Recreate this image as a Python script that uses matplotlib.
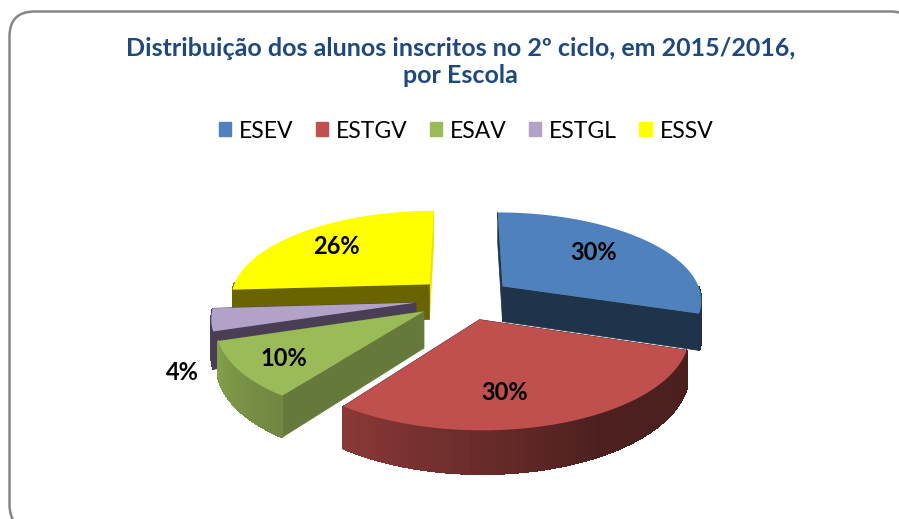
import numpy as np
import matplotlib
matplotlib.use('Agg')
import matplotlib.pyplot as plt
from matplotlib.patches import FancyBboxPatch, Patch

# data
schools = ['ESEV', 'ESTGV', 'ESAV', 'ESTGL', 'ESSV']
shares = [30, 30, 10, 4, 26]
title = 'Distribuição dos alunos inscritos no 2º ciclo, em 2015/2016,\npor Escola'

# style
top_colors = ['#4F81BD', '#C0504D', '#9BBB59', '#B2A2C7', '#FFFF00']
cut_colors = ['#1F334B', '#4B1F1E', '#657A3A', '#493E53', '#696400']
far_cut_colors = ['#1F334B', '#4B1F1E', '#657A3A', '#493E53', '#E6E600']
label_pos = [(594, 252), (505, 392), (284, 358), (182, 372), (336, 246)]
draw_order = [4, 0, 3, 2, 1]

# projection of the tilted pie, in pixels
cx, cy = 464, 298.6
rx, ry = 200, 87.9
persp = 0.145
explode = 0.243
depth = 36


def project(wx, wy, drop=0.0):
    p = 1 / (1 + persp * wy)
    return cx + rx * wx * p, cy - ry * wy * p + drop * depth * p


def rim_shade(theta):
    return np.interp(theta, [100, 150, 216, 252, 270], [.39, .40, .72, .85, .85])


fig = plt.figure(figsize=(8.99, 5.19), dpi=100)
ax = fig.add_axes([0, 0, 1, 1])
ax.set_xlim(0, 899)
ax.set_ylim(519, 0)
ax.axis('off')

# chart frame runs off the right and bottom edge
ax.add_patch(FancyBboxPatch((9.5, 11.5), 906, 518, boxstyle='round,pad=0,rounding_size=25',
                            fc='white', ec='#868686', lw=1.8, zorder=0))

edges = np.cumsum([0] + shares) / sum(shares) * 360
z = 1
for i in draw_order:
    t0, t1 = edges[i], edges[i + 1]
    mid = np.radians((t0 + t1) / 2)
    ox, oy = explode * np.sin(mid), explode * np.cos(mid)
    thetas = np.linspace(t0, t1, 80)
    arc_x = ox + np.sin(np.radians(thetas))
    arc_y = oy + np.cos(np.radians(thetas))

    # cut faces
    for k, col in [(-1, far_cut_colors[i]), (0, cut_colors[i])]:
        wx, wy = arc_x[k], arc_y[k]
        n = 20
        xs = np.linspace(ox, wx, n)
        ys = np.linspace(oy, wy, n)
        tx, ty = project(xs, ys)
        bx, by = project(xs, ys, 1)
        ax.fill(np.r_[tx, bx[::-1]], np.r_[ty, by[::-1]], color=col, lw=0.5, zorder=z)
        z += 1

    # rim, shaded strip by strip
    base = np.array(matplotlib.colors.to_rgb(top_colors[i]))
    for j in range(len(thetas) - 1):
        if not 90 < thetas[j] < 270:
            continue
        tx, ty = project(arc_x[j:j + 2], arc_y[j:j + 2])
        bx, by = project(arc_x[j:j + 2], arc_y[j:j + 2], 1)
        col = base * rim_shade(thetas[j]) if i < 3 else matplotlib.colors.to_rgb(cut_colors[i])
        ax.fill(np.r_[tx, bx[::-1]], np.r_[ty, by[::-1]], color=col, lw=0.6, antialiased=False, zorder=z)
    z += 1

    # top face
    tx, ty = project(np.r_[ox, arc_x], np.r_[oy, arc_y])
    ax.fill(tx, ty, color=top_colors[i], lw=0, zorder=z)
    z += 1

for v, (lx, ly) in zip(shares, label_pos):
    ax.text(lx, ly, f'{v}%', ha='center', va='center', fontsize=17, fontweight='bold',
            family='Lato', color='black', zorder=z)

ax.text(460.5, 62, title, ha='center', va='center', fontsize=18, fontweight='bold',
        family='Lato', color='#1F497D', linespacing=1.25, zorder=z)

handles = [Patch(color=c, label=s) for c, s in zip(top_colors, schools)]
ax.legend(handles=handles, ncol=5, loc='center', bbox_to_anchor=(466 / 899, 1 - 131 / 519),
          frameon=False, prop={'family': 'Lato', 'size': 16.5}, handlelength=0.55, handleheight=0.55,
          handletextpad=0.35, columnspacing=0.95)

fig.savefig('out.png', dpi=100)
